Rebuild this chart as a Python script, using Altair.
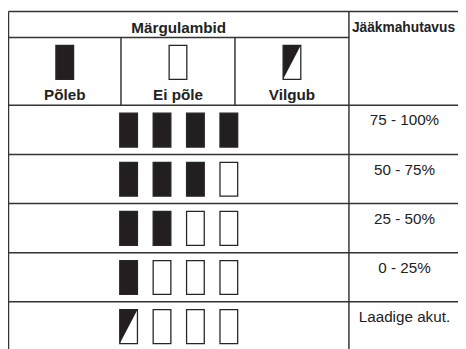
import altair as alt
import pandas as pd

# ---- content -------------------------------------------------------------
header_left = "Märgulambid"
header_right = "Jääkmahutavus"
indicator_labels = ["Põleb", "Ei põle", "Vilgub"]
indicator_states = ["on", "off", "blink"]
capacity_labels = ["75 - 100%", "50 - 75%", "25 - 50%", "0 - 25%", "Laadige akut."]
lamp_rows = [
    ["on", "on", "on", "on"],
    ["on", "on", "on", "off"],
    ["on", "on", "off", "off"],
    ["on", "off", "off", "off"],
    ["blink", "off", "off", "off"],
]

# ---- layout (page pixel units) -------------------------------------------
L, T = 8.5, 8.5          # table left / top border
M = 355                  # divider between the two main columns
R = 470                  # right end (runs off the page)
B = 360                  # bottom end (runs off the page)
H1 = 35                  # end of first header row
H2 = 104                 # end of second header row
ROW_H = 50
SUB = [L, 123, 239, M]   # sub-column borders of the indicator header
LAMP_W, LAMP_H = 18, 34.5
LAMP_STEP = 34
LAMP_TOP = 8

row_tops = [H2 + i * ROW_H for i in range(len(lamp_rows))]
mid_left = (L + M) / 2
mid_right = (M + 466) / 2

# grid lines
lines = [dict(x=L, x2=R, y=T, y2=T), dict(x=L, x2=M, y=H1, y2=H1)]
for t in row_tops:
    lines.append(dict(x=L, x2=R, y=t, y2=t))
lines += [dict(x=L, x2=L, y=T, y2=B), dict(x=M, x2=M, y=T, y2=B)]
for sx in SUB[1:3]:
    lines.append(dict(x=sx, x2=sx, y=H1, y2=H2))
lines_df = pd.DataFrame(lines)

# lamp icons
lamps = []
for i, st in enumerate(indicator_states):
    cx = (SUB[i] + SUB[i + 1]) / 2
    lamps.append(dict(id=f"h{i}", state=st, x=cx - LAMP_W / 2, x2=cx + LAMP_W / 2,
                      y=43, y2=43 + LAMP_H))
for r, row in enumerate(lamp_rows):
    for j, st in enumerate(row):
        cx = mid_left + (j - (len(row) - 1) / 2) * LAMP_STEP
        top = row_tops[r] + LAMP_TOP
        lamps.append(dict(id=f"r{r}_{j}", state=st, x=cx - LAMP_W / 2, x2=cx + LAMP_W / 2,
                          y=top, y2=top + LAMP_H))
lamps_df = pd.DataFrame(lamps)

# triangles for blinking lamps
tri = []
for lp in lamps:
    if lp["state"] == "blink":
        tri.append(dict(id=lp["id"], x=lp["x"], y=lp["y"], y2=lp["y2"]))
        tri.append(dict(id=lp["id"], x=lp["x2"], y=lp["y"], y2=lp["y"]))
tri_df = pd.DataFrame(tri)

# texts (y = text baseline)
bold = [dict(t=header_left, x=mid_left, y=30.5, s=15.5),
        dict(t=header_right, x=mid_right, y=29, s=14)]
for i, lab in enumerate(indicator_labels):
    bold.append(dict(t=lab, x=(SUB[i] + SUB[i + 1]) / 2, y=98.5, s=15.5))
bold_df = pd.DataFrame(bold)
reg_df = pd.DataFrame([dict(t=lab, x=mid_right + 1, y=row_tops[i] + 20.5)
                       for i, lab in enumerate(capacity_labels)])

# ---- chart ---------------------------------------------------------------
W, HGT = 458, 341
xs = alt.Scale(domain=[8, 8 + W], nice=False, zero=False)
ys = alt.Scale(domain=[8, 8 + HGT], nice=False, zero=False, reverse=True)

def X(f="x"):
    return alt.X(f"{f}:Q", scale=xs, axis=None)

def Y(f="y"):
    return alt.Y(f"{f}:Q", scale=ys, axis=None)

grid = alt.Chart(lines_df).mark_rule(color="#333333", strokeWidth=1.5).encode(
    x=X(), x2="x2:Q", y=Y(), y2="y2:Q")

lamp_fill = alt.Chart(lamps_df).mark_rect(strokeWidth=1.3, stroke="#262626").encode(
    x=X(), x2="x2:Q", y=Y(), y2="y2:Q",
    fill=alt.Fill("state:N",
                  scale=alt.Scale(domain=["on", "off", "blink"],
                                  range=["#231f20", "#ffffff", "#ffffff"]),
                  legend=None))

triangles = alt.Chart(tri_df).mark_area(color="#231f20", interpolate="linear").encode(
    x=X(), y=Y(), y2="y2:Q", detail="id:N")

bold_text = alt.Chart(bold_df).mark_text(
    font="Liberation Sans", fontWeight="bold", color="#222222",
    align="center", baseline="alphabetic").encode(
    x=X(), y=Y(), text="t:N", size=alt.Size("s:Q", scale=None, legend=None))

reg_text = alt.Chart(reg_df).mark_text(
    font="Liberation Sans", fontSize=15.5, color="#222222",
    align="center", baseline="alphabetic").encode(
    x=X(), y=Y(), text="t:N")

chart = alt.layer(grid, lamp_fill, triangles, bold_text, reg_text).properties(
    width=W, height=HGT, autosize=alt.AutoSizeParams(type="none"), padding=0,
    background="white"
).configure_view(stroke=None)

chart.save("out.html", embed_options={"renderer": "svg", "actions": False})
